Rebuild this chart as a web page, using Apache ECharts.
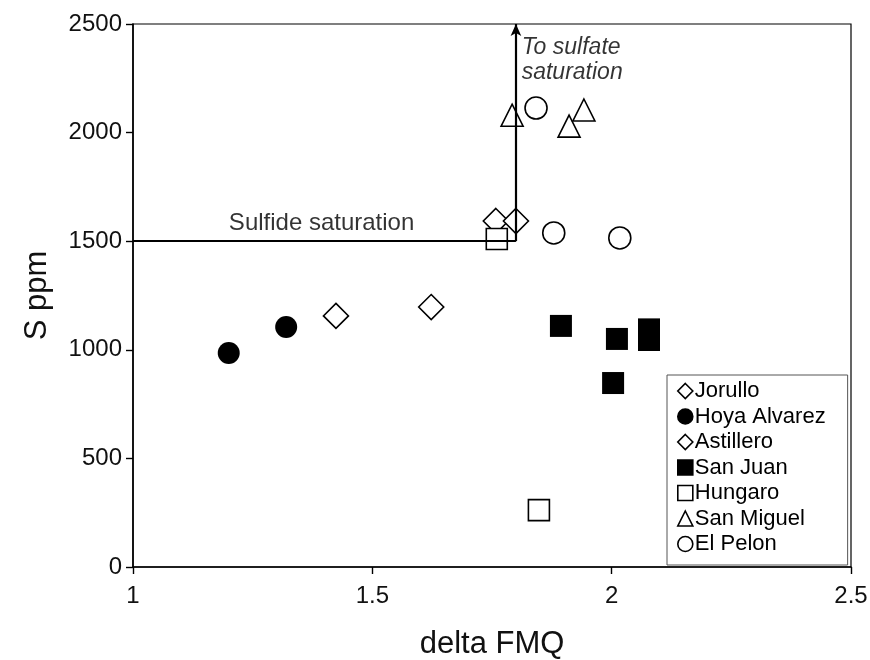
<!DOCTYPE html>
<html><head><meta charset="utf-8">
<script src="https://cdn.jsdelivr.net/npm/echarts@6/dist/echarts.min.js"></script>
<style>html,body{margin:0;padding:0;background:#fff}#c{width:870px;height:660px}</style>
</head><body><div id="c"></div>
<script>
const xTicks = [1, 1.5, 2, 2.5];
const yTicks = [0, 500, 1000, 1500, 2000, 2500];
const jorullo = [[1.758, 1593], [1.800, 1593]];
const hoyaAlvarez = [[1.200, 985], [1.320, 1105]];
const astillero = [[1.424, 1156], [1.623, 1197]];
const sanJuan = [[1.894, 1110], [2.011, 1050], [2.078, 1045], [2.078, 1094], [2.003, 847]];
const hungaro = [[1.760, 1510], [1.848, 262]];
const sanMiguel = [[1.792, 2080], [1.911, 2030], [1.942, 2104]];
const elPelon = [[1.842, 2113], [1.879, 1538], [2.017, 1515]];
const sulfideLine = [[1, 1500], [1.8, 1500]];
const sulfateArrow = [[1.8, 1500], [1.8, 2500]];
const notes = [
  {text: 'Sulfide saturation', pos: [1.394, 1584], italic: false},
  {text: 'To sulfate\nsaturation', pos: [1.812, 2336], italic: true}
];

const font = 'Liberation Sans, Arial, sans-serif';
const openStyle = {color: '#fff', borderColor: '#000', borderWidth: 1.6, opacity: 1};
const fillStyle = {color: '#000', borderColor: '#000', borderWidth: 0, opacity: 1};

function ser(name, data, symbol, size, style) {
  return {name, type: 'scatter', data, symbol, symbolSize: size, itemStyle: style, z: 3};
}

const chart = echarts.init(document.getElementById('c'));
chart.setOption({
  animation: false,
  backgroundColor: '#fff',
  grid: {left: 133, right: 19, top: 24, bottom: 93, show: true, borderColor: '#000', borderWidth: 1.2,
    containLabel: false, outerBoundsMode: 'none'},
  xAxis: {
    type: 'value', min: 1, max: 2.5, interval: 0.5,
    name: 'delta FMQ', nameLocation: 'middle', nameGap: 62,
    nameTextStyle: {fontFamily: font, fontSize: 31, color: '#111'},
    axisLine: {lineStyle: {color: '#000', width: 1.6}},
    axisTick: {length: 7, lineStyle: {color: '#000', width: 1.4}},
    axisLabel: {fontFamily: font, fontSize: 24, color: '#111', margin: 17,
      formatter: v => xTicks.includes(v) ? String(v) : ''},
    splitLine: {show: false}
  },
  yAxis: {
    type: 'value', min: 0, max: 2500, interval: 500,
    name: 'S ppm', nameLocation: 'middle', nameGap: 80,
    nameTextStyle: {fontFamily: font, fontSize: 31, color: '#111'},
    axisLine: {lineStyle: {color: '#000', width: 1.6}},
    axisTick: {length: 7, lineStyle: {color: '#000', width: 1.4}},
    axisLabel: {fontFamily: font, fontSize: 24, color: '#111', margin: 11,
      formatter: v => yTicks.includes(v) ? String(v) : ''},
    splitLine: {show: false}
  },
  legend: {
    orient: 'vertical', left: 667, top: 375,
    padding: [5, 22, 10, 10],
    backgroundColor: '#fff',
    borderColor: '#555', borderWidth: 1,
    itemWidth: 15, itemHeight: 15, itemGap: 3.5, itemStyle: {borderWidth: 1.6},
    textStyle: {fontFamily: font, fontSize: 22, color: '#000', padding: [0, 0, 0, -3]},
    data: ['Jorullo', 'Hoya Alvarez', 'Astillero', 'San Juan', 'Hungaro', 'San Miguel', 'El Pelon']
  },
  series: [
    ser('Jorullo', jorullo, 'diamond', 25, openStyle),
    ser('Hoya Alvarez', hoyaAlvarez, 'circle', 22, fillStyle),
    ser('Astillero', astillero, 'diamond', 25, openStyle),
    ser('San Juan', sanJuan, 'rect', 22, fillStyle),
    ser('Hungaro', hungaro, 'rect', 21, openStyle),
    ser('San Miguel', sanMiguel, 'triangle', 22, openStyle),
    ser('El Pelon', elPelon, 'circle', 22, openStyle),
    {
      name: 'lines', type: 'line', data: [], z: 2,
      markLine: {
        silent: true, animation: false,
        label: {show: false},
        data: [
          [{coord: sulfideLine[0], symbol: 'none'}, {coord: sulfideLine[1], symbol: 'none'}],
          [{coord: sulfateArrow[0], symbol: 'none'}, {coord: sulfateArrow[1], symbol: 'arrow', symbolSize: [8, 12]}]
        ],
        lineStyle: {color: '#000', width: 2.2, type: 'solid'}
      }
    },
    {
      name: 'notes', type: 'scatter', symbolSize: 0, z: 4,
      data: notes.map(n => ({value: n.pos, label: {
        show: true, formatter: n.text,
        position: n.italic ? 'right' : 'inside', distance: 0,
        align: n.italic ? 'left' : 'center', verticalAlign: 'middle',
        fontFamily: font, fontSize: n.italic ? 23 : 24, fontStyle: n.italic ? 'italic' : 'normal',
        color: '#000', lineHeight: 25
      }})),
      itemStyle: {color: 'transparent'}
    }
  ]
});
</script></body></html>
